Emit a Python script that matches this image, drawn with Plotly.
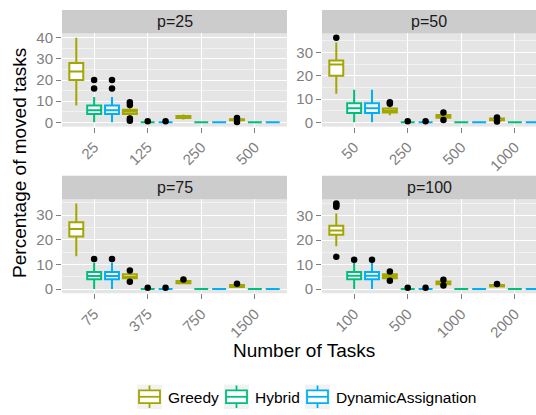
import plotly.graph_objects as go
from plotly.subplots import make_subplots

W, H = 536, 415

panels = ["p=25", "p=50", "p=75", "p=100"]
tasks_p25 = ["25", "125", "250", "500"]
tasks_p50 = ["50", "250", "500", "1000"]
tasks_p75 = ["75", "375", "750", "1500"]
tasks_p100 = ["100", "500", "1000", "2000"]
task_labels = [tasks_p25, tasks_p50, tasks_p75, tasks_p100]

methods = ["Greedy", "Hybrid", "DynamicAssignation"]
colors = ["#A3A500", "#00BF7D", "#00B0F6"]

# Box statistics, 16 entries each: panel p=25 (4 task counts), p=50, p=75, p=100
greedy_q1 = [20, 4, 2.0, 1.0,   20, 4.2, 2.0, 0.9,   21.3, 4.4, 2.3, 0.8,   22.2, 4.4, 2.0, 1.0]
greedy_med = [24, 5, 2.5, 1.2,  24.8, 5.0, 2.6, 1.2, 24.3, 5.0, 2.8, 1.2,   23.9, 5.2, 2.6, 1.3]
greedy_q3 = [28, 6, 3.0, 1.5,   26.5, 5.9, 3.1, 1.6, 27.1, 6.0, 3.3, 1.6,   25.9, 6.0, 3.1, 1.6]
greedy_lo = [8, 3, 1.3, 0.6,    12.3, 3.0, 1.5, 0.6, 13.3, 4.0, 2.0, 0.6,   17.5, 4.0, 1.9, 0.8]
greedy_hi = [40, 7, 3.7, 1.9,   34.2, 7.0, 3.6, 1.9, 34.7, 6.6, 3.6, 1.9,   30.9, 6.6, 3.4, 1.9]
greedy_out = [[], [0.8, 1.8, 8.2, 9.5], [], [0.2, 2.1],
              [36.3], [8.0, 8.6], [1.0, 4.2], [0.4, 2.1],
              [], [3.0, 7.5], [3.9], [2.1],
              [13.2, 33.6, 34.4, 35.0], [3.4, 7.2], [1.4, 3.8], [2.1]]

hybrid_q1 = [4, 0, 0, 0,     4, 0, 0, 0,     4.0, 0, 0, 0,   4.0, 0, 0, 0]
hybrid_med = [5.7, 0, 0, 0,  6, 0, 0, 0,     5.3, 0, 0, 0,   5.4, 0, 0, 0]
hybrid_q3 = [8, 0, 0, 0,     8.2, 0, 0, 0,   6.9, 0, 0, 0,   7.0, 0, 0, 0]
hybrid_lo = [0, 0, 0, 0,     0, 0, 0, 0,     0, 0, 0, 0,     0, 0, 0, 0]
hybrid_hi = [12, 0, 0, 0,    14, 0, 0, 0,    10.7, 0, 0, 0,  10.8, 0, 0, 0]
hybrid_out = [[16, 20], [0.5], [], [],
              [], [0.5], [], [],
              [12.2], [0.5], [], [],
              [12.0], [0.5], [], []]

dynamic_q1 = [4, 0, 0, 0,     4, 0, 0, 0,     4.0, 0, 0, 0,   4.0, 0, 0, 0]
dynamic_med = [5.7, 0, 0, 0,  6, 0, 0, 0,     5.3, 0, 0, 0,   5.4, 0, 0, 0]
dynamic_q3 = [8, 0, 0, 0,     8.2, 0, 0, 0,   6.9, 0, 0, 0,   7.0, 0, 0, 0]
dynamic_lo = [0, 0, 0, 0,     0, 0, 0, 0,     0, 0, 0, 0,     0, 0, 0, 0]
dynamic_hi = [12, 0, 0, 0,    14, 0, 0, 0,    10.7, 0, 0, 0,  10.8, 0, 0, 0]
dynamic_out = [[16, 20], [0.5], [], [],
               [], [0.5], [], [],
               [12.2], [0.5], [], [],
               [12.0], [0.5], [], []]

stats = [
    (greedy_q1, greedy_med, greedy_q3, greedy_lo, greedy_hi, greedy_out),
    (hybrid_q1, hybrid_med, hybrid_q3, hybrid_lo, hybrid_hi, hybrid_out),
    (dynamic_q1, dynamic_med, dynamic_q3, dynamic_lo, dynamic_hi, dynamic_out),
]

FONT = "Liberation Sans, Arial, Helvetica, sans-serif"
GREY50 = "#7F7F7F"
DODGE = 1.0          # dodge width (in category units)
BOX_W = 0.26         # box width (in category units)
n_m = len(methods)
offsets = [(m - (n_m - 1) / 2) * DODGE / n_m for m in range(n_m)]

fig = make_subplots(rows=2, cols=2)

for p in range(4):
    row, col = p // 2 + 1, p % 2 + 1
    sl = slice(p * 4, p * 4 + 4)
    cats = list(range(len(task_labels[p])))
    for m, (q1, med, q3, lo, hi, out) in enumerate(stats):
        pos = [c + offsets[m] for c in cats]
        fig.add_trace(go.Box(
            x=pos,
            q1=q1[sl], median=med[sl], q3=q3[sl],
            lowerfence=lo[sl], upperfence=hi[sl],
            width=BOX_W, boxpoints=False,
            name=methods[m], showlegend=False,
            fillcolor="white", line=dict(color=colors[m], width=2),
            whiskerwidth=0,
        ), row=row, col=col)
        ox, oy = [], []
        for c, vals in zip(pos, out[sl]):
            ox += [c] * len(vals)
            oy += vals
        fig.add_trace(go.Scatter(
            x=ox, y=oy, mode="markers", showlegend=False,
            marker=dict(color="black", size=6.5, line=dict(width=0)),
        ), row=row, col=col)

def px(x):
    return x / W

def py(y):
    return 1 - y / H

# panel pixel geometry
x_dom = [(62, 287), (322, 536), (62, 287), (322, 536)]
y_dom = [(30, 125), (30, 125), (199, 295), (199, 295)]
strip_y = [(6, 30), (6, 30), (175, 199), (175, 199)]
cat_px = (287 - 62) / 4.2

shapes = []
annotations = []
for p in range(4):
    xa = "xaxis" + ("" if p == 0 else str(p + 1))
    ya = "yaxis" + ("" if p == 0 else str(p + 1))
    x0, x1 = x_dom[p]
    y0, y1 = y_dom[p]
    vals = []
    for (q1, med, q3, lo, hi, out) in stats:
        vals += hi[p * 4:p * 4 + 4] + lo[p * 4:p * 4 + 4]
        for o in out[p * 4:p * 4 + 4]:
            vals += o
    vmax, vmin = max(vals), min(vals)
    span = vmax - vmin
    xr_hi = -0.6 + (x1 - x0) / cat_px
    fig.layout[xa].update(
        domain=[px(x0), px(x1)], range=[-0.6, xr_hi],
        tickmode="array", tickvals=list(range(len(task_labels[p]))),
        ticktext=task_labels[p],
        tickangle=-45, tickfont=dict(size=15, color=GREY50, family=FONT),
        ticks="outside", ticklen=5, tickcolor=GREY50, tickwidth=1,
        showgrid=True, gridcolor="white", gridwidth=1.2,
        zeroline=False, showline=False, fixedrange=True)
    fig.layout[ya].update(
        domain=[py(y1), py(y0)], range=[vmin - 0.05 * span, vmax + 0.05 * span],
        dtick=10, tick0=0,
        tickfont=dict(size=15, color=GREY50, family=FONT),
        ticks="outside", ticklen=5, tickcolor=GREY50, tickwidth=1,
        showgrid=True, gridcolor="white", gridwidth=1.2,
        minor=dict(dtick=5, tick0=0, showgrid=True, gridcolor="#F2F2F2", gridwidth=0.6, ticks=""),
        zeroline=False, showline=False, fixedrange=True)
    s0, s1 = strip_y[p]
    shapes.append(dict(type="rect", xref="paper", yref="paper",
                       x0=px(x0), x1=px(x1), y0=py(s1), y1=py(s0),
                       fillcolor="#CCCCCC", line=dict(width=0), layer="below"))
    annotations.append(dict(text=panels[p], xref="paper", yref="paper",
                            x=px((x0 + x1) / 2), y=py((s0 + s1) / 2),
                            xanchor="center", yanchor="middle", showarrow=False,
                            font=dict(size=16, color="#1A1A1A", family=FONT)))

# axis titles
annotations.append(dict(text="Number of Tasks", xref="paper", yref="paper",
                        x=px(304), y=py(353), xanchor="center", yanchor="middle",
                        showarrow=False, font=dict(size=19, color="black", family=FONT)))
annotations.append(dict(text="Percentage of moved tasks", xref="paper", yref="paper",
                        x=px(20), y=py(162), xanchor="center", yanchor="middle",
                        textangle=-90, showarrow=False,
                        font=dict(size=19, color="black", family=FONT)))

# legend (drawn keys)
key_x = [137, 224, 305]
ky0, ky1 = 388, 413
for m in range(3):
    kx0 = key_x[m]
    kx1 = kx0 + 25
    cx = (kx0 + kx1) / 2
    shapes.append(dict(type="rect", xref="paper", yref="paper",
                       x0=px(kx0), x1=px(kx1), y0=py(ky1), y1=py(ky0),
                       fillcolor="#F2F2F2", line=dict(width=0)))
    shapes.append(dict(type="line", xref="paper", yref="paper",
                       x0=px(cx), x1=px(cx), y0=py(ky1 - 1), y1=py(ky0 + 1),
                       line=dict(color=colors[m], width=1.8)))
    shapes.append(dict(type="rect", xref="paper", yref="paper",
                       x0=px(kx0 + 2), x1=px(kx1 - 2), y0=py(407), y1=py(394),
                       fillcolor="white", line=dict(color=colors[m], width=1.8)))
    shapes.append(dict(type="line", xref="paper", yref="paper",
                       x0=px(kx0 + 2), x1=px(kx1 - 2), y0=py(400.5), y1=py(400.5),
                       line=dict(color=colors[m], width=1.8)))
    annotations.append(dict(text=methods[m], xref="paper", yref="paper",
                            x=px(kx1 + 4), y=py(401), xanchor="left", yanchor="middle",
                            showarrow=False,
                            font=dict(size=15.5, color="black", family=FONT)))

fig.update_layout(
    width=W, height=H,
    margin=dict(l=0, r=0, t=0, b=0),
    paper_bgcolor="white", plot_bgcolor="#E5E5E5",
    shapes=shapes, annotations=annotations,
    showlegend=False,
    font=dict(family=FONT),
)

fig.write_html("out.html", config={"displayModeBar": False},
               post_script="document.body.style.margin='0px';")
